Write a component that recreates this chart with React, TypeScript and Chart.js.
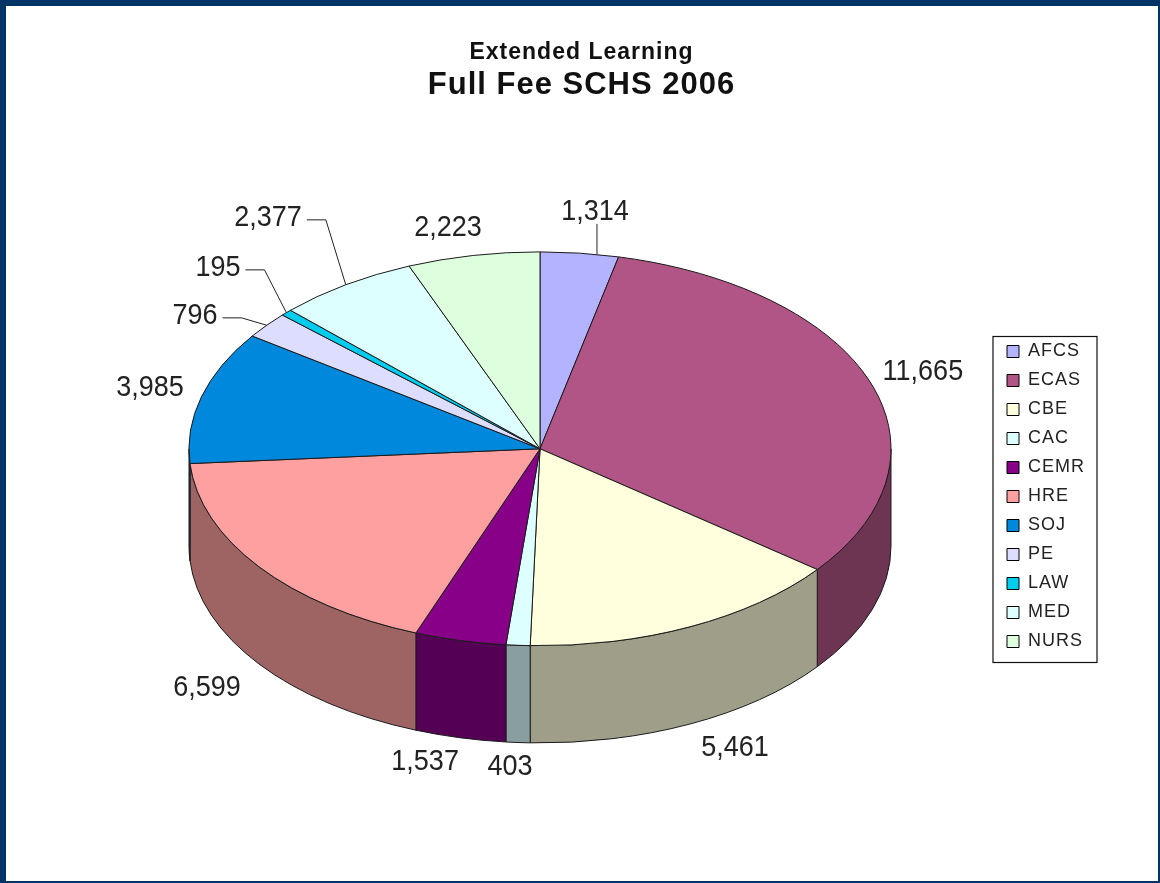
import React, { useEffect, useRef } from 'react';
import { Chart, registerables } from 'chart.js';

Chart.register(...registerables);

// ---------- data ----------
const CATEGORIES = ['AFCS', 'ECAS', 'CBE', 'CAC', 'CEMR', 'HRE', 'SOJ', 'PE', 'LAW', 'MED', 'NURS'];
const VALUES = [1314, 11665, 5461, 403, 1537, 6599, 3985, 796, 195, 2377, 2223];
const TITLE = 'Extended Learning';
const SUBTITLE = 'Full Fee SCHS 2006';

// ---------- styles / layout ----------
const TOP_COLORS = ['#B3B3FF', '#B05585', '#FFFFDD', '#DDFFFF', '#880088', '#FFA0A0', '#0088DD', '#DDDDFF', '#00CCEE', '#DDFFFF', '#DDFFDD'];
const SIDE_FACTOR = 0.62;
const TILT = 0.561; // vertical squash of the pie top
const DEPTH = 0.277; // thickness relative to radius
const BOX_SHIFT = -6; // horizontal nudge applied to title/legend boxes
const FONT = "'Liberation Sans', Arial, Helvetica, sans-serif";
// label placement multipliers (horizontal, vertical) around each slice's mid angle
const LABEL_K: [number, number][] = [
  [1.39, 1.211], [1.158, 1.164], [1.3, 1.134], [1.37, 1.124], [1.44, 1.126], [1.185, 1.203],
  [1.152, 1.173], [1.262, 1.076], [1.27, 1.329], [1.4, 1.408], [1.38, 1.143],
];
const LEADERS = ['vertical', 'none', 'none', 'none', 'none', 'none', 'none', 'elbow', 'elbow', 'elbow', 'none'];

function darken(hex: string, f: number): string {
  const n = parseInt(hex.slice(1), 16);
  const r = Math.round(((n >> 16) & 255) * f);
  const g = Math.round(((n >> 8) & 255) * f);
  const b = Math.round((n & 255) * f);
  return `rgb(${r},${g},${b})`;
}

const pie3d = {
  id: 'pie3d',
  beforeDraw(chart: any) {
    const ctx = chart.ctx as any;
    ctx.letterSpacing = '1px';
    ctx.setTransform(1, 0, 0, 1, BOX_SHIFT, 0);
  },
  beforeDatasetsDraw(chart: any) {
    const ctx = chart.ctx as CanvasRenderingContext2D;
    ctx.setTransform(1, 0, 0, 1, 0, 0);
    (ctx as any).letterSpacing = '0px';
    const meta = chart.getDatasetMeta(0);
    const arcs = meta.data as any[];
    if (!arcs.length) return false;
    const rx = arcs[0].outerRadius;
    const ry = rx * TILT;
    const depth = rx * DEPTH;
    const cx = arcs[0].x;
    const cy = arcs[0].y - depth / 2;
    ctx.save();
    ctx.lineWidth = 1;
    ctx.strokeStyle = '#1a1a1a';
    ctx.lineJoin = 'round';

    // outer walls (front half only)
    arcs.forEach((arc, i) => {
      const a = Math.max(arc.startAngle, 0);
      const b = Math.min(arc.endAngle, Math.PI);
      if (b <= a) return;
      ctx.beginPath();
      ctx.ellipse(cx, cy, rx, ry, 0, a, b, false);
      ctx.lineTo(cx + rx * Math.cos(b), cy + depth + ry * Math.sin(b));
      ctx.ellipse(cx, cy + depth, rx, ry, 0, b, a, true);
      ctx.closePath();
      ctx.fillStyle = darken(TOP_COLORS[i], SIDE_FACTOR);
      ctx.fill();
      ctx.stroke();
    });

    // top faces
    arcs.forEach((arc, i) => {
      ctx.beginPath();
      ctx.moveTo(cx, cy);
      ctx.ellipse(cx, cy, rx, ry, 0, arc.startAngle, arc.endAngle, false);
      ctx.closePath();
      ctx.fillStyle = TOP_COLORS[i];
      ctx.fill();
      ctx.stroke();
    });

    // labels
    ctx.font = `27px ${FONT}`;
    ctx.textAlign = 'center';
    ctx.textBaseline = 'middle';
    arcs.forEach((arc, i) => {
      const mid = (arc.startAngle + arc.endAngle) / 2;
      const c = Math.cos(mid);
      const s = Math.sin(mid);
      const [kx, ky] = LABEL_K[i];
      const lx = cx + kx * rx * c;
      const ly = cy + ky * ry * s + (s > 0 ? depth : 0);
      const text = VALUES[i].toLocaleString('en-US');
      const w = ctx.measureText(text).width;
      ctx.fillStyle = '#222';
      ctx.save();
      ctx.translate(lx, ly);
      ctx.scale(1, 1.12);
      ctx.fillText(text, 0, 0);
      ctx.restore();
      ctx.strokeStyle = '#222';
      if (LEADERS[i] === 'vertical') {
        const x = lx + 2;
        const t = (x - cx) / rx;
        const ey = cy - ry * Math.sqrt(Math.max(0, 1 - t * t));
        ctx.beginPath();
        ctx.moveTo(x, ly + 12);
        ctx.lineTo(x, ey);
        ctx.stroke();
      } else if (LEADERS[i] === 'elbow') {
        const x0 = lx + w / 2 + 5;
        ctx.beginPath();
        ctx.moveTo(x0, ly + 2);
        ctx.lineTo(x0 + 19, ly + 2);
        ctx.lineTo(cx + rx * c, cy + ry * s);
        ctx.stroke();
      }
    });
    ctx.restore();
    return false;
  },
  afterDraw(chart: any) {
    const ctx = chart.ctx as CanvasRenderingContext2D;
    ctx.setTransform(1, 0, 0, 1, 0, 0);
    (ctx as any).letterSpacing = '0px';
    const lg = chart.legend;
    ctx.save();
    if (lg && lg.legendHitBoxes && lg.legendHitBoxes.length) {
      const hb = lg.legendHitBoxes;
      const first = hb[0];
      const last = hb[hb.length - 1];
      ctx.strokeStyle = '#111';
      ctx.lineWidth = 1.2;
      ctx.strokeRect(first.left + BOX_SHIFT - 14, first.top - 6, 104, last.top + last.height + 12 - (first.top - 6));
    }
    // frame
    ctx.fillStyle = '#003366';
    const W = chart.width;
    const H = chart.height;
    ctx.fillRect(0, 0, W, 6);
    ctx.fillRect(0, 0, 6, H);
    ctx.fillRect(W - 2, 0, 2, H);
    ctx.fillRect(0, H - 2, W, 2);
    ctx.restore();
  },
};

export default function App() {
  const ref = useRef<HTMLCanvasElement | null>(null);
  useEffect(() => {
    if (!ref.current) return;
    const chart = new Chart(ref.current, {
      type: 'pie',
      data: {
        labels: CATEGORIES,
        datasets: [
          {
            data: VALUES,
            backgroundColor: TOP_COLORS,
            borderColor: '#000',
            borderWidth: 1,
          },
        ],
      },
      options: {
        responsive: false,
        animation: false,
        devicePixelRatio: 1,
        radius: 351,
        layout: { padding: { left: 78, right: 63, top: 0, bottom: 0 } },
        plugins: {
          title: {
            display: true,
            text: TITLE,
            color: '#111',
            font: { family: FONT, size: 23, weight: 'bold' },
            padding: { top: 39, bottom: 0 },
          },
          subtitle: {
            display: true,
            text: SUBTITLE,
            color: '#111',
            font: { family: FONT, size: 31, weight: 'bold' },
            padding: { top: 0, bottom: 8 },
          },
          legend: {
            position: 'right',
            title: { display: true, text: ' ', font: { size: 10 }, padding: { top: 49, bottom: 49 } },
            labels: {
              boxWidth: 12,
              boxHeight: 12,
              padding: 11,
              color: '#222',
              font: { family: FONT, size: 18 },
            },
          },
          tooltip: { enabled: false },
        },
      } as any,
      plugins: [pie3d],
    });
    return () => chart.destroy();
  }, []);
  return (
    <div style={{ position: 'fixed', left: 0, top: 0, width: 1160, height: 883, background: '#fff' }}>
      <canvas ref={ref} width={1160} height={883} style={{ display: 'block' }} />
    </div>
  );
}
